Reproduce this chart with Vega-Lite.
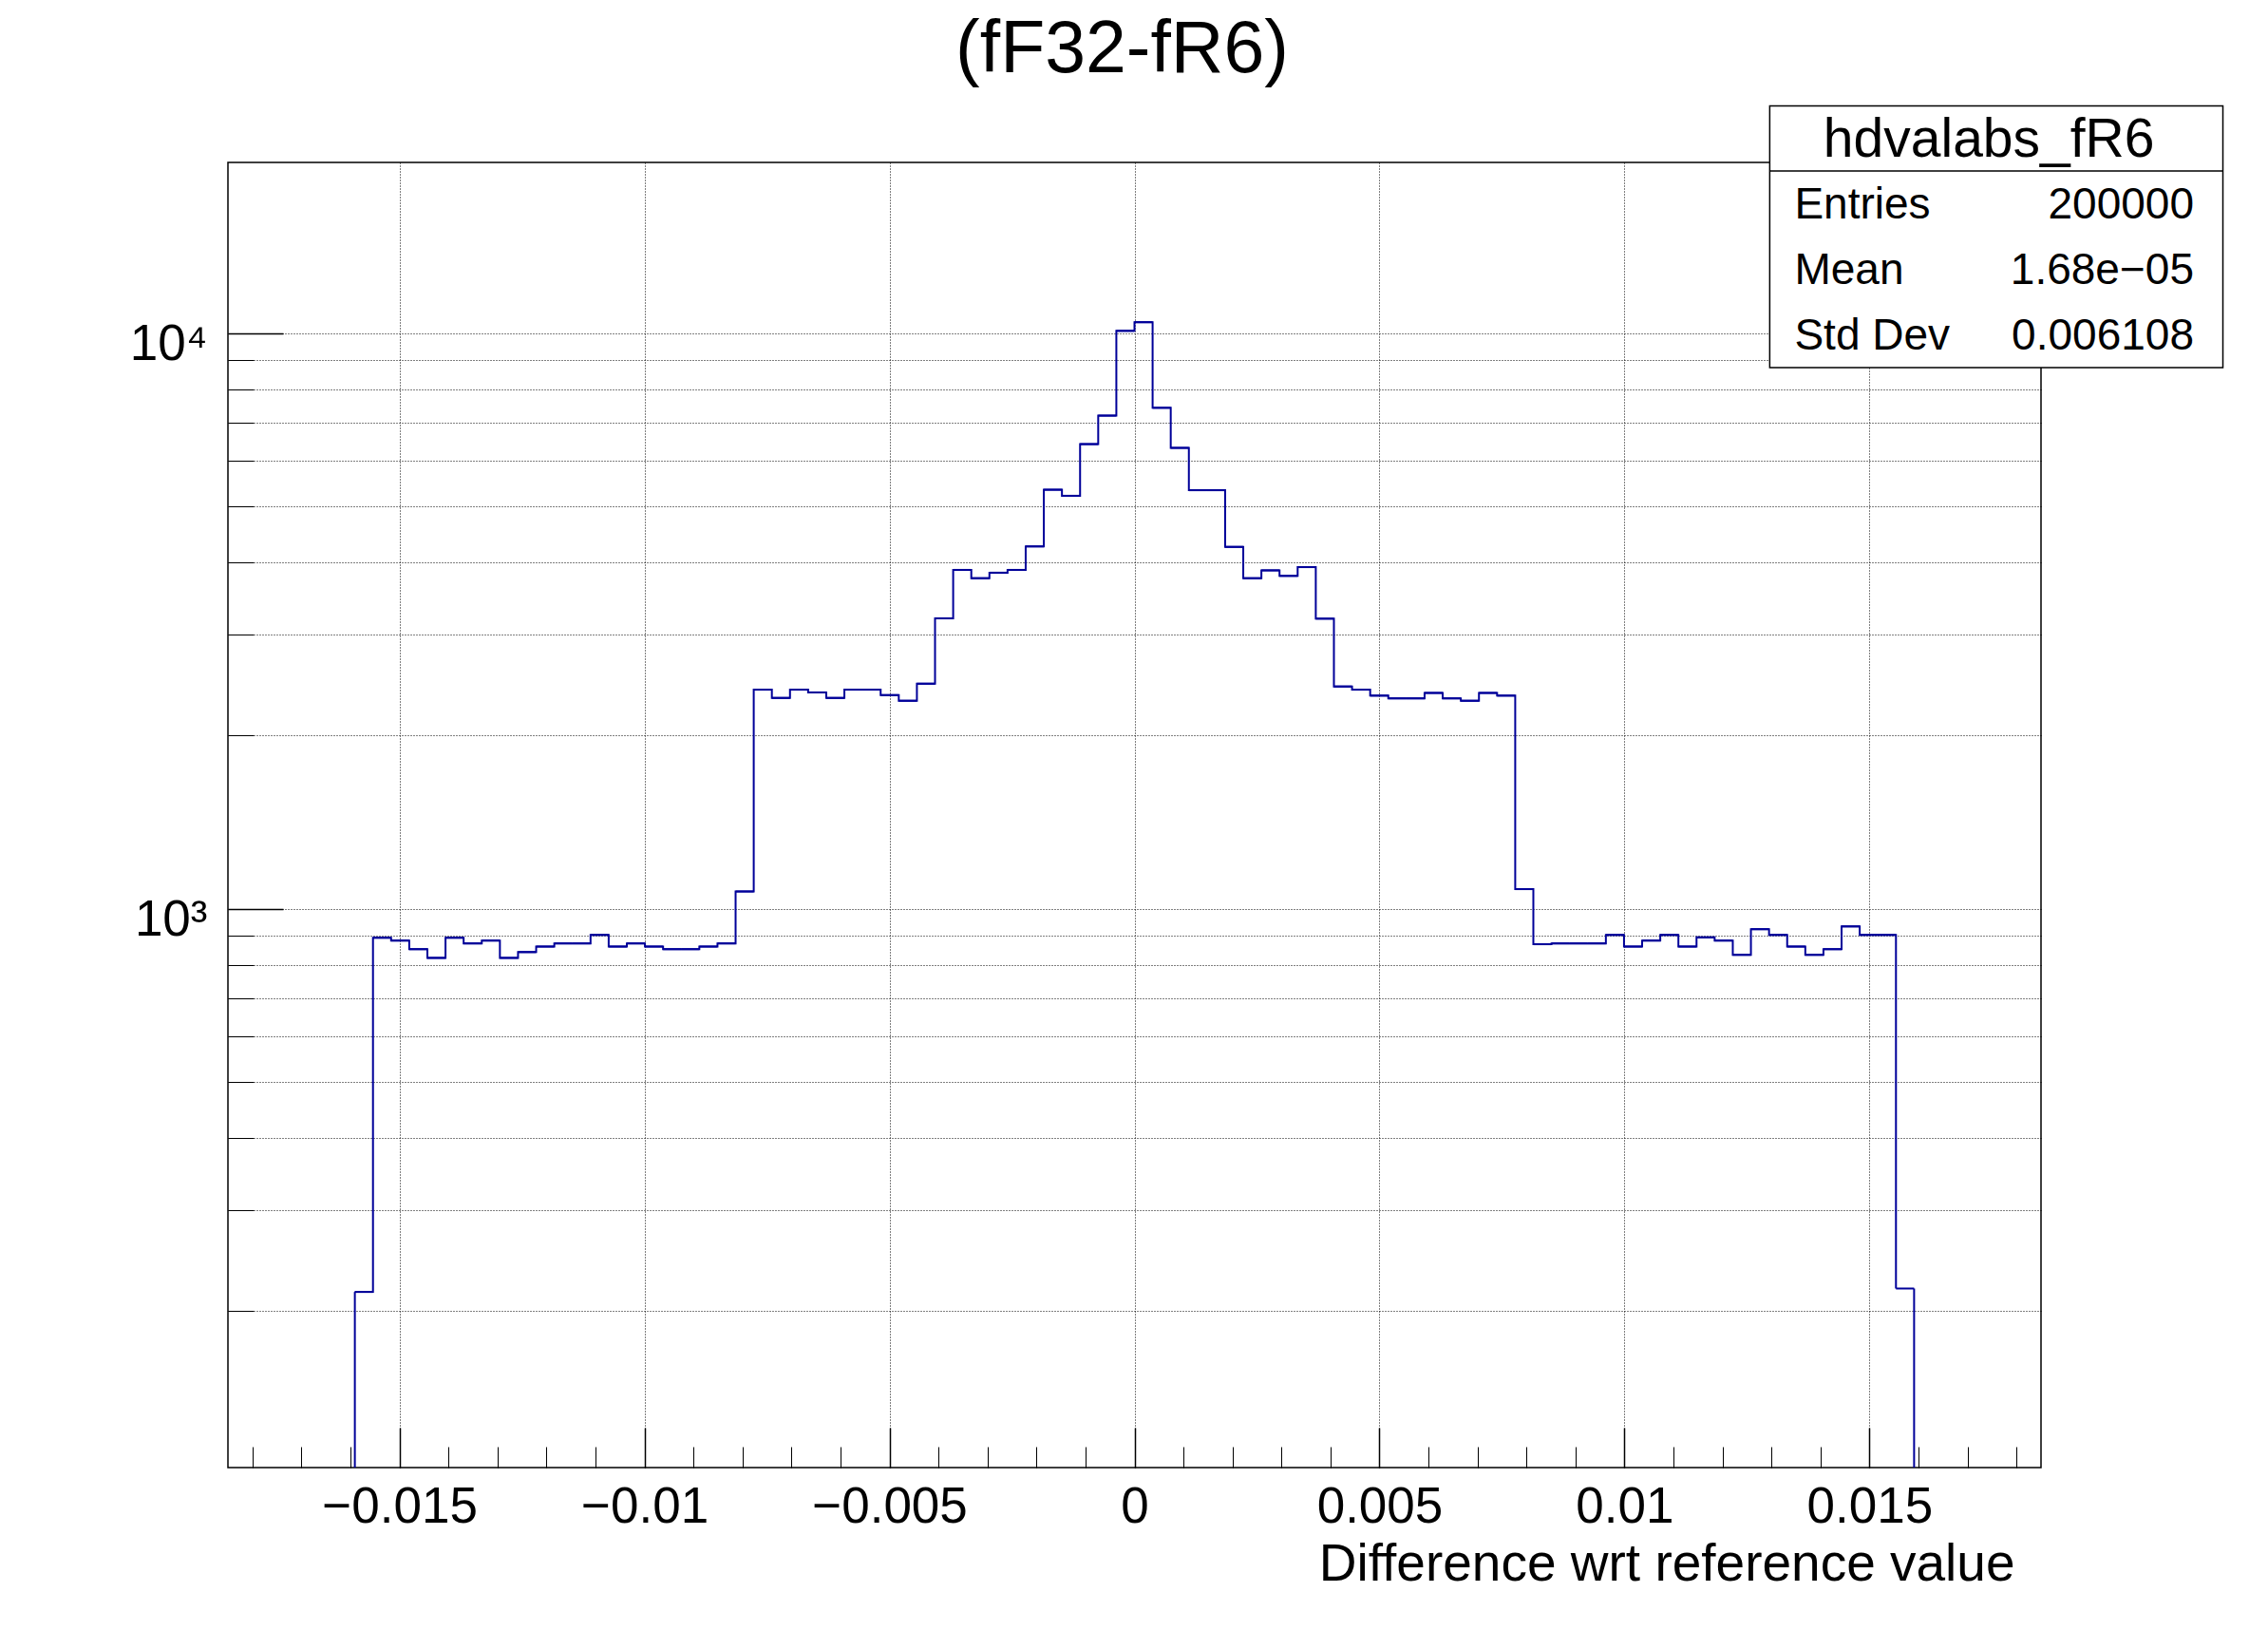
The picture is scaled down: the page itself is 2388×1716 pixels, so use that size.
{
  "$schema": "https://vega.github.io/schema/vega-lite/v6.json",
  "width": 1909,
  "height": 1374,
  "autosize": {"type": "none"},
  "padding": {"left": 240, "top": 171, "right": 239, "bottom": 171},
  "background": "white",
  "title": {
    "text": "(fF32-fR6)",
    "font": "Liberation Sans",
    "fontSize": 77,
    "fontWeight": "normal",
    "color": "black",
    "anchor": "middle",
    "baseline": "alphabetic",
    "offset": -42,
    "dx": -13
  },
  "config": {
    "font": "Liberation Sans",
    "view": {"stroke": "black", "strokeWidth": 1.5},
    "axis": {"labelFont": "Liberation Sans", "titleFont": "Liberation Sans", "labelColor": "black", "titleColor": "black", "tickColor": "black"}
  },
  "datasets": {
    "hist": [
      {"bin": 7, "lo": -0.01591, "hi": -0.01554, "n": 216},
      {"bin": 8, "lo": -0.01554, "hi": -0.01517, "n": 891},
      {"bin": 9, "lo": -0.01517, "hi": -0.0148, "n": 881},
      {"bin": 10, "lo": -0.0148, "hi": -0.01443, "n": 851},
      {"bin": 11, "lo": -0.01443, "hi": -0.01406, "n": 822},
      {"bin": 12, "lo": -0.01406, "hi": -0.01369, "n": 891},
      {"bin": 13, "lo": -0.01369, "hi": -0.01332, "n": 871},
      {"bin": 14, "lo": -0.01332, "hi": -0.01295, "n": 881},
      {"bin": 15, "lo": -0.01295, "hi": -0.01258, "n": 822},
      {"bin": 16, "lo": -0.01258, "hi": -0.01221, "n": 841},
      {"bin": 17, "lo": -0.01221, "hi": -0.01184, "n": 860},
      {"bin": 18, "lo": -0.01184, "hi": -0.01147, "n": 871},
      {"bin": 19, "lo": -0.01147, "hi": -0.0111, "n": 871},
      {"bin": 20, "lo": -0.0111, "hi": -0.01073, "n": 901},
      {"bin": 21, "lo": -0.01073, "hi": -0.01036, "n": 860},
      {"bin": 22, "lo": -0.01036, "hi": -0.00999, "n": 871},
      {"bin": 23, "lo": -0.00999, "hi": -0.00962, "n": 860},
      {"bin": 24, "lo": -0.00962, "hi": -0.00925, "n": 851},
      {"bin": 25, "lo": -0.00925, "hi": -0.00888, "n": 851},
      {"bin": 26, "lo": -0.00888, "hi": -0.00851, "n": 860},
      {"bin": 27, "lo": -0.00851, "hi": -0.00814, "n": 871},
      {"bin": 28, "lo": -0.00814, "hi": -0.00777, "n": 1072},
      {"bin": 29, "lo": -0.00777, "hi": -0.0074, "n": 2403},
      {"bin": 30, "lo": -0.0074, "hi": -0.00703, "n": 2325},
      {"bin": 31, "lo": -0.00703, "hi": -0.00666, "n": 2403},
      {"bin": 32, "lo": -0.00666, "hi": -0.00629, "n": 2377},
      {"bin": 33, "lo": -0.00629, "hi": -0.00592, "n": 2325},
      {"bin": 34, "lo": -0.00592, "hi": -0.00555, "n": 2403},
      {"bin": 35, "lo": -0.00555, "hi": -0.00518, "n": 2403},
      {"bin": 36, "lo": -0.00518, "hi": -0.00481, "n": 2351},
      {"bin": 37, "lo": -0.00481, "hi": -0.00444, "n": 2299},
      {"bin": 38, "lo": -0.00444, "hi": -0.00407, "n": 2461},
      {"bin": 39, "lo": -0.00407, "hi": -0.0037, "n": 3197},
      {"bin": 40, "lo": -0.0037, "hi": -0.00333, "n": 3880},
      {"bin": 41, "lo": -0.00333, "hi": -0.00296, "n": 3753},
      {"bin": 42, "lo": -0.00296, "hi": -0.00259, "n": 3837},
      {"bin": 43, "lo": -0.00259, "hi": -0.00222, "n": 3880},
      {"bin": 44, "lo": -0.00222, "hi": -0.00185, "n": 4262},
      {"bin": 45, "lo": -0.00185, "hi": -0.00148, "n": 5346},
      {"bin": 46, "lo": -0.00148, "hi": -0.00111, "n": 5219},
      {"bin": 47, "lo": -0.00111, "hi": -0.00074, "n": 6416},
      {"bin": 48, "lo": -0.00074, "hi": -0.00037, "n": 7191},
      {"bin": 49, "lo": -0.00037, "hi": 0, "n": 10093},
      {"bin": 50, "lo": 0, "hi": 0.00037, "n": 10452},
      {"bin": 51, "lo": 0.00037, "hi": 0.00074, "n": 7419},
      {"bin": 52, "lo": 0.00074, "hi": 0.00111, "n": 6321},
      {"bin": 53, "lo": 0.00111, "hi": 0.00148, "n": 5336},
      {"bin": 54, "lo": 0.00148, "hi": 0.00185, "n": 5336},
      {"bin": 55, "lo": 0.00185, "hi": 0.00222, "n": 4254},
      {"bin": 56, "lo": 0.00222, "hi": 0.00259, "n": 3753},
      {"bin": 57, "lo": 0.00259, "hi": 0.00296, "n": 3873},
      {"bin": 58, "lo": 0.00296, "hi": 0.00333, "n": 3788},
      {"bin": 59, "lo": 0.00333, "hi": 0.0037, "n": 3923},
      {"bin": 60, "lo": 0.0037, "hi": 0.00407, "n": 3192},
      {"bin": 61, "lo": 0.00407, "hi": 0.00444, "n": 2434},
      {"bin": 62, "lo": 0.00444, "hi": 0.00481, "n": 2403},
      {"bin": 63, "lo": 0.00481, "hi": 0.00518, "n": 2346},
      {"bin": 64, "lo": 0.00518, "hi": 0.00555, "n": 2321},
      {"bin": 65, "lo": 0.00555, "hi": 0.00592, "n": 2321},
      {"bin": 66, "lo": 0.00592, "hi": 0.00629, "n": 2372},
      {"bin": 67, "lo": 0.00629, "hi": 0.00666, "n": 2321},
      {"bin": 68, "lo": 0.00666, "hi": 0.00703, "n": 2299},
      {"bin": 69, "lo": 0.00703, "hi": 0.0074, "n": 2372},
      {"bin": 70, "lo": 0.0074, "hi": 0.00777, "n": 2346},
      {"bin": 71, "lo": 0.00777, "hi": 0.00814, "n": 1082},
      {"bin": 72, "lo": 0.00814, "hi": 0.00851, "n": 868},
      {"bin": 73, "lo": 0.00851, "hi": 0.00888, "n": 871},
      {"bin": 74, "lo": 0.00888, "hi": 0.00925, "n": 871},
      {"bin": 75, "lo": 0.00925, "hi": 0.00962, "n": 871},
      {"bin": 76, "lo": 0.00962, "hi": 0.00999, "n": 901},
      {"bin": 77, "lo": 0.00999, "hi": 0.01036, "n": 860},
      {"bin": 78, "lo": 0.01036, "hi": 0.01073, "n": 881},
      {"bin": 79, "lo": 0.01073, "hi": 0.0111, "n": 901},
      {"bin": 80, "lo": 0.0111, "hi": 0.01147, "n": 860},
      {"bin": 81, "lo": 0.01147, "hi": 0.01184, "n": 892},
      {"bin": 82, "lo": 0.01184, "hi": 0.01221, "n": 881},
      {"bin": 83, "lo": 0.01221, "hi": 0.01258, "n": 832},
      {"bin": 84, "lo": 0.01258, "hi": 0.01295, "n": 922},
      {"bin": 85, "lo": 0.01295, "hi": 0.01332, "n": 901},
      {"bin": 86, "lo": 0.01332, "hi": 0.01369, "n": 860},
      {"bin": 87, "lo": 0.01369, "hi": 0.01406, "n": 832},
      {"bin": 88, "lo": 0.01406, "hi": 0.01443, "n": 851},
      {"bin": 89, "lo": 0.01443, "hi": 0.0148, "n": 932},
      {"bin": 90, "lo": 0.0148, "hi": 0.01517, "n": 901},
      {"bin": 91, "lo": 0.01517, "hi": 0.01554, "n": 901},
      {"bin": 92, "lo": 0.01554, "hi": 0.01591, "n": 219}
    ],
    "box": [{"name": "hdvalabs_fR6"}],
    "stats": [
      {"stat": "Entries", "value": "200000"},
      {"stat": "Mean", "value": "1.68e−05"},
      {"stat": "Std Dev", "value": "0.006108"}
    ]
  },
  "resolve": {"axis": {"x": "independent", "y": "independent"}},
  "layer": [
    {
      "data": {"name": "hist"},
      "mark": {"type": "rule", "color": "#000099", "strokeWidth": 2},
      "encoding": {
        "x": {
          "field": "lo", "type": "quantitative",
          "scale": {"type": "linear", "domain": [-0.0185, 0.0185], "nice": false, "zero": false},
          "axis": {
            "orient": "bottom",
            "values": [-0.015, -0.01, -0.005, 0, 0.005, 0.01, 0.015],
            "format": "~g",
            "ticks": false, "domain": false,
            "grid": true, "gridColor": "black", "gridDash": [1, 2], "gridWidth": 1, "gridOpacity": 1,
            "labelFontSize": 53, "labelBaseline": "alphabetic", "labelPadding": 57,
            "labelFlush": false, "labelOverlap": false, "labelBound": false,
            "title": "Difference wrt reference value",
            "titleFontSize": 55, "titleFontWeight": "normal",
            "titleAnchor": "end", "titleAlign": "right", "titleBaseline": "alphabetic",
            "titleX": 1881, "titleY": 118
          }
        },
        "x2": {"field": "hi"},
        "y": {
          "field": "n", "type": "quantitative",
          "scale": {"type": "log", "domain": [107, 19800], "nice": false},
          "axis": {
            "orient": "left",
            "values": [1000, 10000],
            "labelExpr": "datum.value > 5000 ? '10⁴' : '10³'",
            "ticks": false, "domain": false,
            "grid": true, "gridColor": "black", "gridDash": [1, 2], "gridWidth": 1, "gridOpacity": 1,
            "labelFontSize": 53, "labelAlign": "right", "labelBaseline": "middle",
            "labelPadding": 22, "labelOffset": 12, "labelOverlap": false, "labelBound": false,
            "title": null
          }
        }
      }
    },
    {
      "data": {"name": "hist"},
      "mark": {"type": "line", "interpolate": "step-after", "color": "#000099", "strokeWidth": 2},
      "encoding": {
        "x": {
          "field": "lo", "type": "quantitative",
          "scale": {"type": "linear", "domain": [-0.0185, 0.0185], "nice": false, "zero": false},
          "axis": {
            "orient": "bottom",
            "values": [-0.015, -0.01, -0.005, 0, 0.005, 0.01, 0.015],
            "labels": false, "grid": false, "domain": false,
            "ticks": true, "tickSize": -42, "tickWidth": 1.5, "title": null
          }
        },
        "y": {
          "field": "n", "type": "quantitative",
          "scale": {"type": "log", "domain": [107, 19800], "nice": false},
          "axis": {
            "orient": "left",
            "values": [1000, 10000],
            "labels": false, "grid": false, "domain": false,
            "ticks": true, "tickSize": -58, "tickWidth": 1.5, "title": null
          }
        }
      }
    },
    {
      "data": {"name": "hist"},
      "transform": [{"filter": "datum.bin == 7"}],
      "mark": {"type": "rule", "color": "#000099", "strokeWidth": 2},
      "encoding": {
        "x": {
          "field": "lo", "type": "quantitative",
          "scale": {"type": "linear", "domain": [-0.0185, 0.0185], "nice": false, "zero": false},
          "axis": {
            "orient": "bottom",
            "values": [-0.018, -0.017, -0.016, -0.015, -0.014, -0.013, -0.012, -0.011, -0.01, -0.009, -0.008, -0.007, -0.006, -0.005, -0.004, -0.003, -0.002, -0.001, 0, 0.001, 0.002, 0.003, 0.004, 0.005, 0.006, 0.007, 0.008, 0.009, 0.01, 0.011, 0.012, 0.013, 0.014, 0.015, 0.016, 0.017, 0.018],
            "labels": false, "grid": false, "domain": false,
            "ticks": true, "tickSize": -22, "tickWidth": 1, "title": null
          }
        },
        "y": {
          "field": "n", "type": "quantitative",
          "scale": {"type": "log", "domain": [107, 19800], "nice": false},
          "axis": {
            "orient": "left",
            "values": [200, 300, 400, 500, 600, 700, 800, 900, 2000, 3000, 4000, 5000, 6000, 7000, 8000, 9000],
            "labels": false, "domain": false,
            "grid": true, "gridColor": "black", "gridDash": [1, 2], "gridWidth": 1, "gridOpacity": 1,
            "ticks": true, "tickSize": -27, "tickWidth": 1, "title": null
          }
        },
        "y2": {"datum": 107}
      }
    },
    {
      "data": {"name": "hist"},
      "transform": [{"filter": "datum.bin == 92"}],
      "mark": {"type": "rule", "color": "#000099", "strokeWidth": 2},
      "encoding": {
        "x": {
          "field": "hi", "type": "quantitative",
          "scale": {"type": "linear", "domain": [-0.0185, 0.0185], "nice": false, "zero": false},
          "axis": null
        },
        "y": {
          "field": "n", "type": "quantitative",
          "scale": {"type": "log", "domain": [107, 19800], "nice": false},
          "axis": null
        },
        "y2": {"datum": 107}
      }
    },
    {
      "data": {"name": "box"},
      "mark": {"type": "rect", "fill": "white", "stroke": "black", "strokeWidth": 1.5},
      "encoding": {
        "x": {"datum": 0.012964, "type": "quantitative", "scale": {"type": "linear", "domain": [-0.0185, 0.0185], "nice": false, "zero": false}, "axis": null},
        "x2": {"datum": 0.022212},
        "y": {"datum": 24834, "type": "quantitative", "scale": {"type": "log", "domain": [107, 19800], "nice": false}, "axis": null},
        "y2": {"datum": 8711}
      }
    },
    {
      "data": {"name": "box"},
      "mark": {"type": "rule", "color": "black", "strokeWidth": 1.5},
      "encoding": {
        "x": {"datum": 0.012964, "type": "quantitative", "scale": {"type": "linear", "domain": [-0.0185, 0.0185], "nice": false, "zero": false}, "axis": null},
        "x2": {"datum": 0.022212},
        "y": {"datum": 19126, "type": "quantitative", "scale": {"type": "log", "domain": [107, 19800], "nice": false}, "axis": null}
      }
    },
    {
      "data": {"name": "box"},
      "mark": {"type": "text", "font": "Liberation Sans", "fontSize": 57, "color": "black", "align": "center", "baseline": "alphabetic"},
      "encoding": {
        "x": {"datum": 0.017437, "type": "quantitative", "scale": {"type": "linear", "domain": [-0.0185, 0.0185], "nice": false, "zero": false}, "axis": null},
        "y": {"datum": 20277, "type": "quantitative", "scale": {"type": "log", "domain": [107, 19800], "nice": false}, "axis": null},
        "text": {"field": "name"}
      }
    },
    {
      "data": {"name": "stats"},
      "mark": {"type": "text", "font": "Liberation Sans", "fontSize": 46, "color": "black", "align": "left", "baseline": "alphabetic"},
      "encoding": {
        "x": {"datum": 0.013469, "type": "quantitative", "scale": {"type": "linear", "domain": [-0.0185, 0.0185], "nice": false, "zero": false}, "axis": null},
        "y": {"datum": 15798, "type": "quantitative", "scale": {"type": "log", "domain": [107, 19800], "nice": false}, "axis": null},
        "yOffset": {"field": "stat", "type": "nominal", "sort": null, "scale": {"type": "band", "domain": ["Entries", "Mean", "Std Dev"], "range": [-34.5, 172.5], "paddingInner": 0, "paddingOuter": 0}},
        "text": {"field": "stat"}
      }
    },
    {
      "data": {"name": "stats"},
      "mark": {"type": "text", "font": "Liberation Sans", "fontSize": 46, "color": "black", "align": "right", "baseline": "alphabetic"},
      "encoding": {
        "x": {"datum": 0.02162, "type": "quantitative", "scale": {"type": "linear", "domain": [-0.0185, 0.0185], "nice": false, "zero": false}, "axis": null},
        "y": {"datum": 15798, "type": "quantitative", "scale": {"type": "log", "domain": [107, 19800], "nice": false}, "axis": null},
        "yOffset": {"field": "stat", "type": "nominal", "sort": null, "scale": {"type": "band", "domain": ["Entries", "Mean", "Std Dev"], "range": [-34.5, 172.5], "paddingInner": 0, "paddingOuter": 0}},
        "text": {"field": "value"}
      }
    }
  ]
}
